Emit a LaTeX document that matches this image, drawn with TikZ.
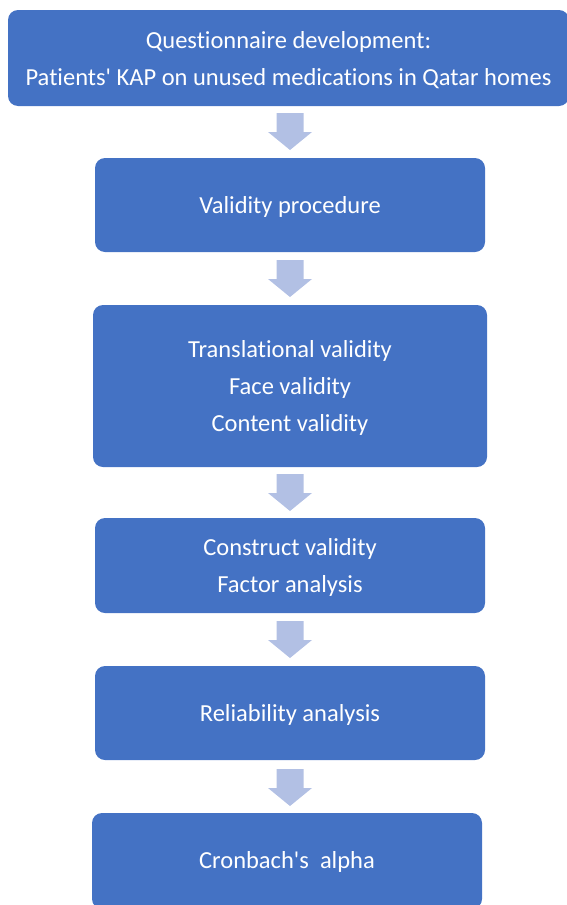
\documentclass[tikz,border=0pt]{standalone}
\usepackage{fontspec}
\setmainfont{Carlito}[Ligatures={NoCommon}]
\definecolor{boxblue}{RGB}{68,114,196}
\definecolor{arrowblue}{RGB}{178,192,228}
\tikzset{
  stepbox/.style={draw=none, fill=boxblue, rounded corners=10pt, inner sep=0pt},
  steptext/.style={text=white, align=center, inner sep=0pt,
    font=\fontsize{24.5}{37}\selectfont},
  blockarrow/.style={fill=arrowblue, draw=none}
}
\newcommand{\downblock}[1]{%
  \fill[blockarrow] ([shift={(-13.5,-18.5)}]#1) -- ([shift={(13.5,-18.5)}]#1)
    -- ([shift={(13.5,0.5)}]#1) -- ([shift={(22,0.5)}]#1) -- ([shift={(0,18.5)}]#1)
    -- ([shift={(-22,0.5)}]#1) -- ([shift={(-13.5,0.5)}]#1) -- cycle;}
\begin{document}
\begin{tikzpicture}[x=1pt,y=-1pt]
\useasboundingbox (0,0) rectangle (567,905);
\node[stepbox, minimum width=561pt, minimum height=96pt] (b1) at (288.5,58) {};
\node[steptext] (t1) at ([yshift=-2pt]b1.center)
  {Questionnaire development:\\Patients\textquotesingle\ KAP on unused medications in Qatar homes};
\node[stepbox, minimum width=390pt, minimum height=94pt] (b2) at (290,205) {};
\node[steptext] (t2) at ([yshift=-2pt]b2.center) {Validity procedure};
\node[stepbox, minimum width=394pt, minimum height=162pt] (b3) at (290,386) {};
\node[steptext] (t3) at ([yshift=-2pt]b3.center)
  {Translational validity\\Face validity\\Content validity};
\node[stepbox, minimum width=390pt, minimum height=95pt] (b4) at (290,565.5) {};
\node[steptext] (t4) at ([yshift=-2pt]b4.center) {Construct validity\\Factor analysis};
\node[stepbox, minimum width=390pt, minimum height=94pt] (b5) at (290,713) {};
\node[steptext] (t5) at ([yshift=-2pt]b5.center) {Reliability analysis};
\node[stepbox, minimum width=390pt, minimum height=96pt] (b6) at (287,861) {};
\node[steptext] (t6) at ([yshift=-1pt]b6.center) {Cronbach\textquotesingle s\ \ alpha};
\coordinate (a1) at (290,131.5);
\coordinate (a2) at (290,278.5);
\coordinate (a3) at (290,492.5);
\coordinate (a4) at (290,639.5);
\coordinate (a5) at (290,787.5);
\downblock{a1}
\downblock{a2}
\downblock{a3}
\downblock{a4}
\downblock{a5}
\end{tikzpicture}
\end{document}
